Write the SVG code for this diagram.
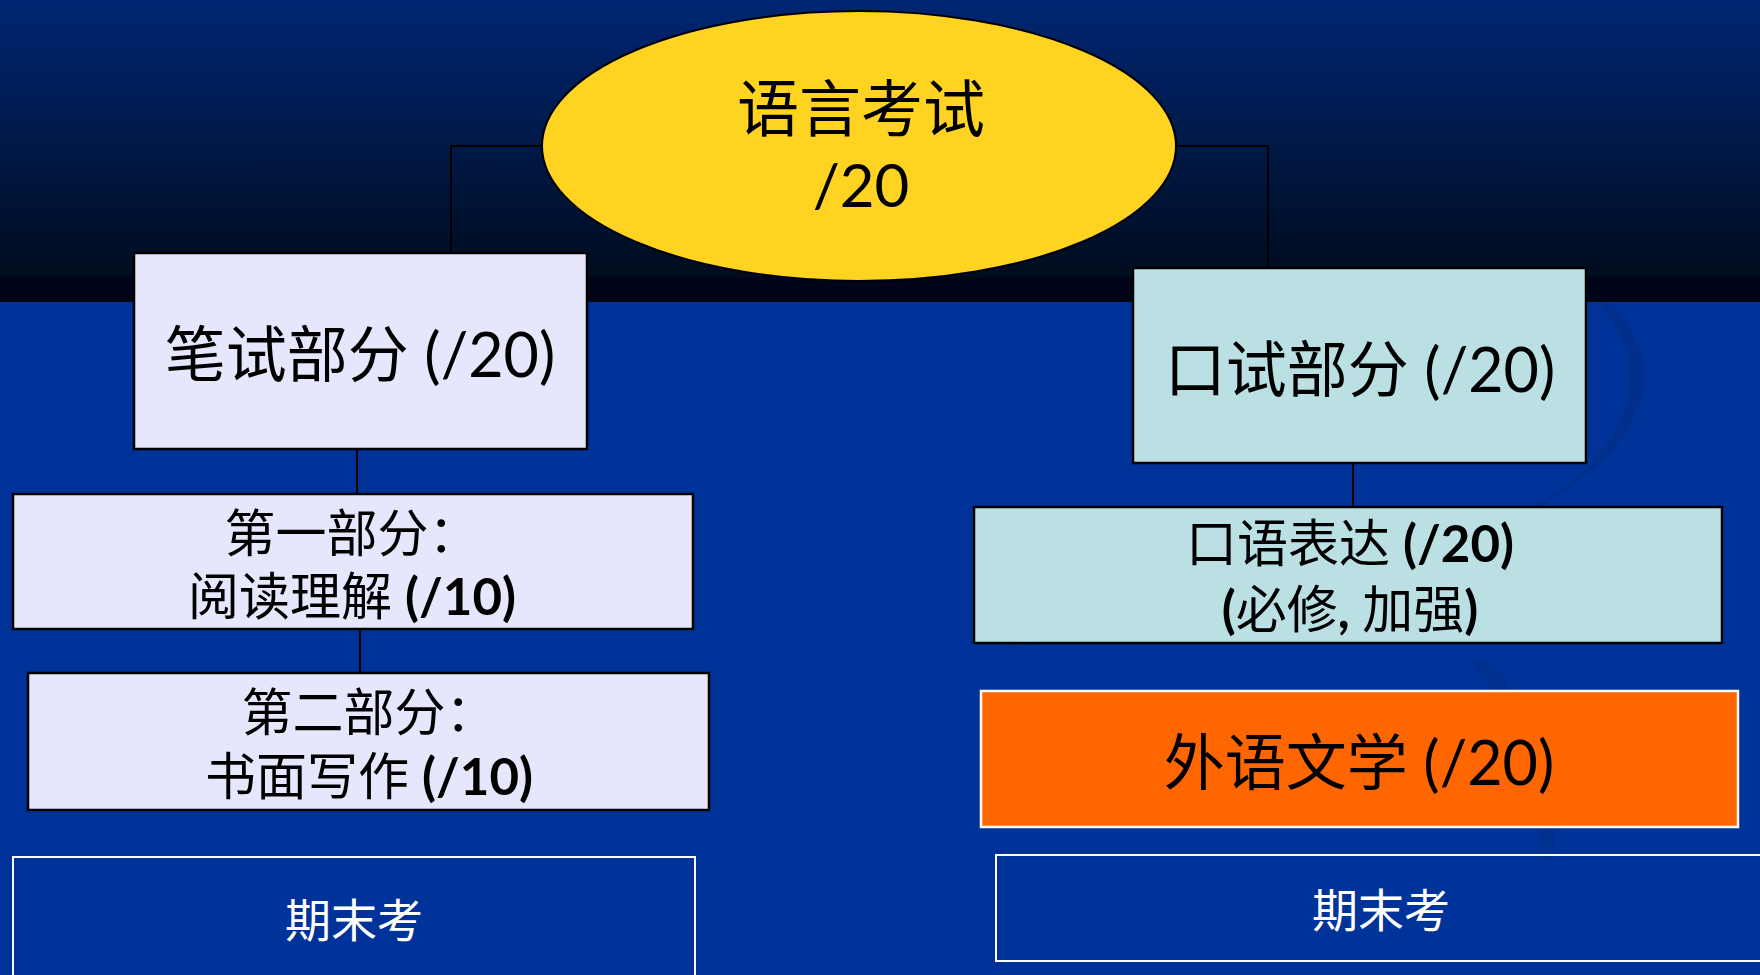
<svg xmlns="http://www.w3.org/2000/svg" width="1760" height="975" viewBox="0 0 1760 975">
  <defs>
    <linearGradient id="topGrad" x1="0" y1="0" x2="0" y2="1">
      <stop offset="0" stop-color="#002673"/>
      <stop offset="1" stop-color="#000c1e"/>
    </linearGradient>
    <style>
      .t { font-family: Lato, "Noto Sans CJK SC", sans-serif; text-anchor: middle; fill: #000; }
      .w { fill: #fff; }
      .b { font-weight: bold; }
      .conn { fill: none; stroke: #000; stroke-width: 2; }
      .lav { fill: #E6E6FC; stroke: #000; stroke-width: 2.5; }
      .cyan { fill: #BBE0E3; stroke: #000; stroke-width: 2.5; }
      .org { fill: #FF6600; stroke: #fff; stroke-width: 2.5; }
      .outl { fill: none; stroke: #fff; stroke-width: 2; }
      .swoosh { fill: #002f8c; }
    </style>
  </defs>

  <g id="background">
    <rect x="0" y="0" width="1760" height="975" fill="#003399"/>
    <rect x="0" y="0" width="1760" height="278" fill="url(#topGrad)"/>
    <rect x="0" y="277" width="1760" height="25" fill="#000418"/>
    <path class="swoosh" d="M1597,302 C1650,360 1640,430 1560,490 C1450,560 1250,610 1020,640 L1000,650 C1250,615 1470,560 1580,480 C1660,420 1660,350 1610,302 Z"/>
    <path class="swoosh" d="M1470,660 C1520,720 1545,790 1540,860 L1555,860 C1560,790 1535,715 1490,660 Z" opacity="0.7"/>
  </g>

  <g id="connectors">
    <path class="conn" d="M542,146 H451 V253"/>
    <path class="conn" d="M1176,146 H1268 V268"/>
    <line class="conn" x1="357" y1="449" x2="357" y2="494"/>
    <line class="conn" x1="360" y1="629" x2="360" y2="673"/>
    <line class="conn" x1="1353" y1="463" x2="1353" y2="507"/>
  </g>

  <g id="node-root">
    <ellipse cx="859" cy="146" rx="317" ry="135" fill="#FFD322" stroke="#000" stroke-width="2"/>
    <text class="t" x="861" y="132" font-size="62">语言考试</text>
    <text class="t" x="861" y="207" font-size="60">/20</text>
  </g>

  <g id="node-written">
    <rect class="lav" x="134" y="253" width="453" height="196"/>
    <text class="t" x="360" y="377" font-size="61">笔试部分 (/20)</text>
  </g>

  <g id="node-part1">
    <rect class="lav" x="13" y="494" width="680" height="135"/>
    <text class="t" x="352" y="552" font-size="51">第一部分：</text>
    <text class="t" x="352" y="615" font-size="51">阅读理解 <tspan class="b">(/10)</tspan></text>
  </g>

  <g id="node-part2">
    <rect class="lav" x="28" y="673" width="681" height="137"/>
    <text class="t" x="369" y="731" font-size="51">第二部分：</text>
    <text class="t" x="369" y="795" font-size="51">书面写作 <tspan class="b">(/10)</tspan></text>
  </g>

  <g id="node-final-left">
    <rect class="outl" x="13" y="857" width="682" height="140"/>
    <text class="t w" x="354" y="937" font-size="46">期末考</text>
  </g>

  <g id="node-oral">
    <rect class="cyan" x="1133" y="268" width="453" height="195"/>
    <text class="t" x="1360" y="392" font-size="61">口试部分 (/20)</text>
  </g>

  <g id="node-oral-expr">
    <rect class="cyan" x="974" y="507" width="748" height="136"/>
    <text class="t" x="1350" y="562" font-size="51">口语表达 <tspan class="b">(/20)</tspan></text>
    <text class="t" x="1350" y="628" font-size="51"><tspan class="b">(</tspan>必修<tspan class="b">, </tspan>加强<tspan class="b">)</tspan></text>
  </g>

  <g id="node-literature">
    <rect class="org" x="981" y="691" width="757" height="136"/>
    <text class="t" x="1359" y="785" font-size="61">外语文学 (/20)</text>
  </g>

  <g id="node-final-right">
    <rect class="outl" x="996" y="855" width="800" height="106"/>
    <text class="t w" x="1381" y="927" font-size="46">期末考</text>
  </g>
</svg>
